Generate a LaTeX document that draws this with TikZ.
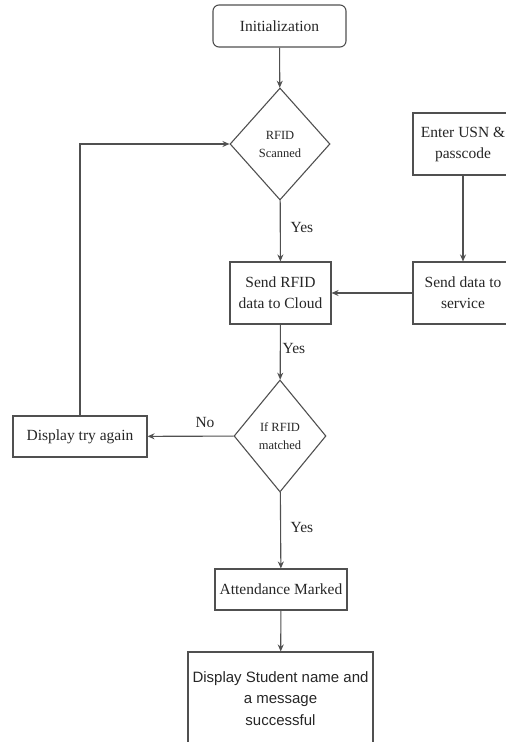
\documentclass[tikz,border=0pt]{standalone}
\usepackage{fontspec}
\setmainfont{Liberation Serif}
\newfontfamily\arialfont{Liberation Sans}
\usetikzlibrary{shapes.geometric,arrows.meta}
\definecolor{linec}{HTML}{505050}
\definecolor{textc}{HTML}{262626}
\begin{document}
\begin{tikzpicture}[x=1pt,y=-1pt,
  every node/.style={text=textc},
  boxnode/.style={draw=linec,line width=1.1pt,rectangle,inner sep=0pt,align=center,font=\fontsize{15.5}{21}\selectfont},
  decnode/.style={draw=linec,line width=1.1pt,diamond,inner sep=0pt,align=center,font=\fontsize{12.5}{18}\selectfont},
  lbl/.style={font=\fontsize{15.5}{18}\selectfont,inner sep=0pt},
  conn/.style={draw=linec,line width=1.1pt,-{Stealth[length=7pt,width=6pt]}}]
\useasboundingbox (0,0) rectangle (506,742);
\clip (0,0) rectangle (506,742);
\node[boxnode,rounded corners=6pt,minimum width=133pt,minimum height=42pt] (init) at (279.5,26) {Initialization};
\node[decnode,minimum width=100pt,minimum height=112pt] (d1) at (280,144) {RFID\\Scanned};
\node[boxnode,minimum width=100pt,minimum height=62pt] (usn) at (463,144) {Enter USN \&\\passcode};
\node[boxnode,minimum width=101pt,minimum height=62pt] (rfid) at (280.5,293) {Send RFID\\data to Cloud};
\node[boxnode,minimum width=100pt,minimum height=62pt] (svc) at (463,293) {Send data to\\service};
\node[decnode,minimum width=92pt,minimum height=112pt] (d2) at (280,436) {If RFID\\matched};
\node[boxnode,minimum width=134pt,minimum height=41pt] (try) at (80,436.5) {Display try again};
\node[boxnode,minimum width=132pt,minimum height=41pt] (att) at (281,589.5) {Attendance Marked};
\node[boxnode,minimum width=185pt,minimum height=93pt,font=\arialfont\fontsize{15}{21.5}\selectfont] (disp) at (280.5,698.5) {Display Student name and\\a message\\successful};
\node[lbl] (y1) at (302,227) {Yes};
\node[lbl] (y2) at (294,348) {Yes};
\node[lbl] (n1) at (205,422) {No};
\node[lbl] (y3) at (302,527) {Yes};
\draw[conn] (init) -- (d1);
\draw[conn] (d1) -- (rfid);
\draw[conn] (usn) -- (svc);
\draw[conn] (svc) -- (rfid);
\draw[conn] (rfid) -- (d2);
\draw[conn] (d2) -- (try);
\draw[conn] (try.north) |- (d1.west);
\draw[conn] (d2) -- (att);
\draw[conn] (att) -- (disp);
\end{tikzpicture}
\end{document}
